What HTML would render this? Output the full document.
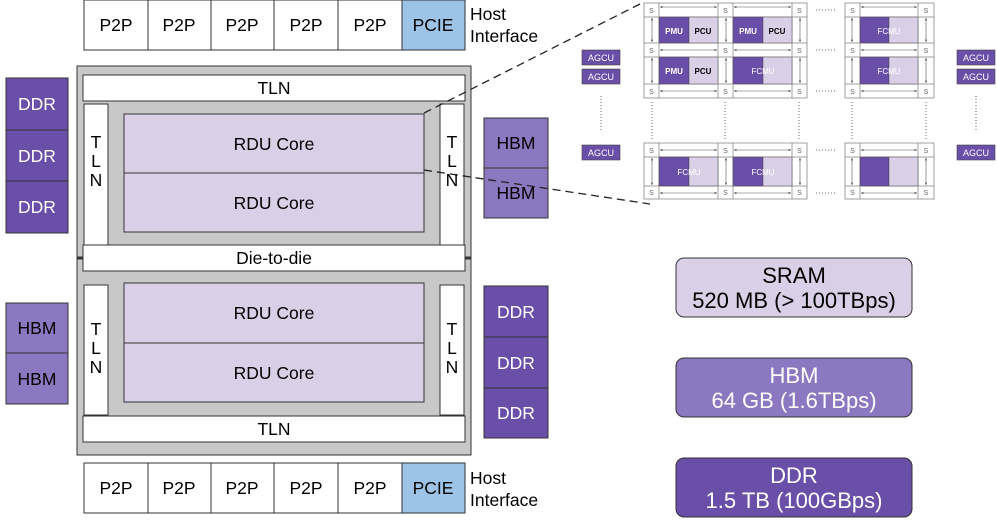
<!DOCTYPE html>
<html><head><style>body{margin:0;background:#fff}svg{display:block}text{font-family:"Liberation Sans",sans-serif}</style></head><body>
<svg width="997" height="524" viewBox="0 0 997 524">
<defs><marker id="a" markerWidth="4" markerHeight="4" refX="4" refY="2" orient="auto"><path d="M0,0L4,2L0,4z" fill="#555"/></marker>
<marker id="b" markerWidth="4" markerHeight="4" refX="0" refY="2" orient="auto"><path d="M4,0L0,2L4,4z" fill="#555"/></marker></defs>
<g stroke="#333" stroke-width="1">
<g fill="#fff">
<rect x="84" y="0" width="64" height="50"/><rect x="148" y="0" width="63" height="50"/><rect x="211" y="0" width="63" height="50"/><rect x="274" y="0" width="64" height="50"/><rect x="338" y="0" width="64" height="50"/>
<rect x="84" y="463" width="64" height="50"/><rect x="148" y="463" width="63" height="50"/><rect x="211" y="463" width="63" height="50"/><rect x="274" y="463" width="64" height="50"/><rect x="338" y="463" width="64" height="50"/>
</g>
<rect x="402" y="0" width="63" height="50" fill="#9dc3e6"/><rect x="402" y="463" width="63" height="50" fill="#9dc3e6"/>
<rect x="77" y="66" width="394" height="389" fill="#c8c8c8"/>
<line x1="77" y1="258" x2="471" y2="258" stroke-width="3"/>
<g fill="#fff">
<rect x="83" y="75" width="382" height="26"/><rect x="84" y="104" width="24" height="142"/><rect x="440" y="104" width="24" height="142"/>
<rect x="83" y="245" width="382" height="26"/>
<rect x="84" y="285" width="24" height="130"/><rect x="440" y="285" width="24" height="130"/>
<rect x="83" y="416" width="382" height="26"/>
</g>
<g fill="#d9d0e8"><rect x="124" y="114" width="300" height="59"/><rect x="124" y="173" width="300" height="59"/>
<rect x="124" y="283" width="300" height="60"/><rect x="124" y="343" width="300" height="59"/></g>
<g fill="#6a4fa8"><rect x="6" y="78" width="62" height="52"/><rect x="6" y="130" width="62" height="51"/><rect x="6" y="181" width="62" height="52"/>
<rect x="484" y="286" width="64" height="51"/><rect x="484" y="337" width="64" height="51"/><rect x="484" y="388" width="64" height="50"/></g>
<g fill="#8c78c0"><rect x="484" y="118" width="64" height="50"/><rect x="484" y="168" width="64" height="50"/>
<rect x="6" y="303" width="62" height="50"/><rect x="6" y="353" width="62" height="51"/></g>
<rect x="676" y="258" width="236" height="59" rx="8" fill="#d9d0e8"/>
<rect x="676" y="358" width="236" height="59" rx="8" fill="#8c78c0"/>
<rect x="676" y="458" width="236" height="59" rx="8" fill="#6a4fa8"/>
</g>
<g stroke="#222" stroke-dasharray="8,5" stroke-width="1.3"><line x1="424" y1="113" x2="640" y2="4"/><line x1="424" y1="170" x2="650" y2="204"/></g>
<g font-size="17.5" text-anchor="middle" fill="#000">
<text x="116" y="31">P2P</text><text x="179" y="31">P2P</text><text x="242" y="31">P2P</text><text x="306" y="31">P2P</text><text x="370" y="31">P2P</text><text x="433" y="31">PCIE</text>
<text x="116" y="494">P2P</text><text x="179" y="494">P2P</text><text x="242" y="494">P2P</text><text x="306" y="494">P2P</text><text x="370" y="494">P2P</text><text x="433" y="494">PCIE</text>
<text x="274" y="94">TLN</text><text x="274" y="264">Die-to-die</text><text x="274" y="435">TLN</text>
<text x="274" y="150">RDU Core</text><text x="274" y="209">RDU Core</text><text x="274" y="319">RDU Core</text><text x="274" y="379">RDU Core</text>
<text x="96" y="148">T</text><text x="96" y="167">L</text><text x="96" y="186">N</text>
<text x="452" y="148">T</text><text x="452" y="167">L</text><text x="452" y="186">N</text>
<text x="96" y="335">T</text><text x="96" y="354">L</text><text x="96" y="373">N</text>
<text x="452" y="335">T</text><text x="452" y="354">L</text><text x="452" y="373">N</text>
<g text-anchor="start"><text x="470" y="20">Host</text><text x="470" y="42">Interface</text><text x="470" y="484">Host</text><text x="470" y="506">Interface</text></g>
<g fill="#fff"><text x="37" y="110">DDR</text><text x="37" y="162">DDR</text><text x="37" y="213">DDR</text>
<text x="516" y="318">DDR</text><text x="516" y="369">DDR</text><text x="516" y="419">DDR</text></g>
<g fill="#000"><text x="516" y="149">HBM</text><text x="516" y="199">HBM</text><text x="37" y="334">HBM</text><text x="37" y="385">HBM</text></g>
<g font-size="22"><text x="794" y="283">SRAM</text><text x="794" y="308">520 MB (&gt; 100TBps)</text>
<text x="794" y="383" fill="#fff">HBM</text><text x="794" y="408" fill="#fff">64 GB (1.6TBps)</text>
<text x="794" y="483" fill="#fff">DDR</text><text x="794" y="508" fill="#fff">1.5 TB (100GBps)</text></g>
</g>
<g id="grid">
<g stroke="#555" stroke-width="0.6" marker-start="url(#b)" marker-end="url(#a)">
<line x1="660" y1="7" x2="717" y2="7"/><line x1="734" y1="7" x2="791" y2="7"/><line x1="861" y1="7" x2="917" y2="7"/>
<line x1="660" y1="50" x2="717" y2="50"/><line x1="734" y1="50" x2="791" y2="50"/><line x1="861" y1="50" x2="917" y2="50"/>
<line x1="660" y1="91" x2="717" y2="91"/><line x1="734" y1="91" x2="791" y2="91"/><line x1="861" y1="91" x2="917" y2="91"/>
<line x1="660" y1="150" x2="717" y2="150"/><line x1="734" y1="150" x2="791" y2="150"/><line x1="861" y1="150" x2="917" y2="150"/>
<line x1="660" y1="193" x2="717" y2="193"/><line x1="734" y1="193" x2="791" y2="193"/><line x1="861" y1="193" x2="917" y2="193"/>
<line x1="652" y1="18" x2="652" y2="42"/><line x1="726" y1="18" x2="726" y2="42"/><line x1="800" y1="18" x2="800" y2="42"/><line x1="852" y1="18" x2="852" y2="42"/><line x1="926" y1="18" x2="926" y2="42"/>
<line x1="652" y1="58" x2="652" y2="83"/><line x1="726" y1="58" x2="726" y2="83"/><line x1="800" y1="58" x2="800" y2="83"/><line x1="852" y1="58" x2="852" y2="83"/><line x1="926" y1="58" x2="926" y2="83"/>
<line x1="652" y1="158" x2="652" y2="185"/><line x1="726" y1="158" x2="726" y2="185"/><line x1="800" y1="158" x2="800" y2="185"/><line x1="852" y1="158" x2="852" y2="185"/><line x1="926" y1="158" x2="926" y2="185"/>
</g>
<g stroke="#888" stroke-width="0.8" fill="none">
<path d="M644 17V43M659 17V43M718 17V43M733 17V43M792 17V43M807 17V43M845 17V43M860 17V43M918 17V43M934 17V43"/>
<path d="M644 57V84M659 57V84M718 57V84M733 57V84M792 57V84M807 57V84M845 57V84M860 57V84M918 57V84M934 57V84"/>
<path d="M644 157V186M659 157V186M718 157V186M733 157V186M792 157V186M807 157V186M845 157V186M860 157V186M918 157V186M934 157V186"/>
<path d="M659 3H718M659 17H718M733 3H792M733 17H792M860 3H918M860 17H918M659 43H718M659 57H718M733 43H792M733 57H792M860 43H918M860 57H918M659 84H718M659 98H718M733 84H792M733 98H792M860 84H918M860 98H918M659 143H718M659 157H718M733 143H792M733 157H792M860 143H918M860 157H918M659 186H718M659 199H718M733 186H792M733 199H792M860 186H918M860 199H918"/>
</g>
<g fill="#6a4fa8" stroke="#444" stroke-width="0.5">
<rect x="659" y="17" width="30" height="26"/><rect x="733" y="17" width="30" height="26"/><rect x="860" y="17" width="29" height="26"/>
<rect x="659" y="57" width="30" height="27"/><rect x="733" y="57" width="30" height="27"/><rect x="860" y="57" width="29" height="27"/>
<rect x="659" y="157" width="30" height="29"/><rect x="733" y="157" width="30" height="29"/><rect x="860" y="157" width="29" height="29"/>
</g>
<g fill="#d9d0e8" stroke="#444" stroke-width="0.5">
<rect x="689" y="17" width="29" height="26"/><rect x="763" y="17" width="29" height="26"/><rect x="889" y="17" width="29" height="26"/>
<rect x="689" y="57" width="29" height="27"/><rect x="763" y="57" width="29" height="27"/><rect x="889" y="57" width="29" height="27"/>
<rect x="689" y="157" width="29" height="29"/><rect x="763" y="157" width="29" height="29"/><rect x="889" y="157" width="29" height="29"/>
</g>
<g fill="#fff" stroke="#888" stroke-width="0.8">
<rect x="644" y="3" width="15" height="14"/><rect x="718" y="3" width="15" height="14"/><rect x="792" y="3" width="15" height="14"/><rect x="845" y="3" width="15" height="14"/><rect x="918" y="3" width="16" height="14"/>
<rect x="644" y="43" width="15" height="14"/><rect x="718" y="43" width="15" height="14"/><rect x="792" y="43" width="15" height="14"/><rect x="845" y="43" width="15" height="14"/><rect x="918" y="43" width="16" height="14"/>
<rect x="644" y="84" width="15" height="14"/><rect x="718" y="84" width="15" height="14"/><rect x="792" y="84" width="15" height="14"/><rect x="845" y="84" width="15" height="14"/><rect x="918" y="84" width="16" height="14"/>
<rect x="644" y="143" width="15" height="14"/><rect x="718" y="143" width="15" height="14"/><rect x="792" y="143" width="15" height="14"/><rect x="845" y="143" width="15" height="14"/><rect x="918" y="143" width="16" height="14"/>
<rect x="644" y="186" width="15" height="13"/><rect x="718" y="186" width="15" height="13"/><rect x="792" y="186" width="15" height="13"/><rect x="845" y="186" width="15" height="13"/><rect x="918" y="186" width="16" height="13"/>
</g>
<g fill="#6a4fa8" stroke="#444" stroke-width="0.6">
<rect x="582" y="50" width="38" height="15"/><rect x="582" y="69" width="38" height="15"/><rect x="582" y="145" width="38" height="15"/>
<rect x="957" y="50" width="38" height="15"/><rect x="957" y="69" width="38" height="15"/><rect x="957" y="145" width="38" height="15"/>
</g>
<g font-size="7" fill="#666" text-anchor="middle">
<text x="651.5" y="13">S</text><text x="725.5" y="13">S</text><text x="799.5" y="13">S</text><text x="852.5" y="13">S</text><text x="926" y="13">S</text>
<text x="651.5" y="53">S</text><text x="725.5" y="53">S</text><text x="799.5" y="53">S</text><text x="852.5" y="53">S</text><text x="926" y="53">S</text>
<text x="651.5" y="94">S</text><text x="725.5" y="94">S</text><text x="799.5" y="94">S</text><text x="852.5" y="94">S</text><text x="926" y="94">S</text>
<text x="651.5" y="153">S</text><text x="725.5" y="153">S</text><text x="799.5" y="153">S</text><text x="852.5" y="153">S</text><text x="926" y="153">S</text>
<text x="651.5" y="195">S</text><text x="725.5" y="195">S</text><text x="799.5" y="195">S</text><text x="852.5" y="195">S</text><text x="926" y="195">S</text>
</g>
<g font-size="8" font-weight="bold" text-anchor="middle">
<text x="674" y="34" fill="#fff">PMU</text><text x="703" y="34">PCU</text><text x="748" y="34" fill="#fff">PMU</text><text x="777" y="34">PCU</text>
<text x="674" y="74" fill="#fff">PMU</text><text x="703" y="74">PCU</text>
</g>
<g font-size="8" fill="#fff" text-anchor="middle">
<text x="889" y="34">FCMU</text><text x="763" y="74">FCMU</text><text x="889" y="74">FCMU</text><text x="689" y="175">FCMU</text><text x="763" y="175">FCMU</text>
</g>
<g font-size="9" fill="#fff" text-anchor="middle">
<text x="601" y="61">AGCU</text><text x="601" y="80">AGCU</text><text x="601" y="156">AGCU</text>
<text x="976" y="61">AGCU</text><text x="976" y="80">AGCU</text><text x="976" y="156">AGCU</text>
</g>
<g stroke="#666" stroke-width="1" stroke-dasharray="1,2">
<line x1="816" y1="10" x2="836" y2="10"/><line x1="816" y1="50" x2="836" y2="50"/><line x1="816" y1="91" x2="836" y2="91"/><line x1="816" y1="150" x2="836" y2="150"/><line x1="816" y1="193" x2="836" y2="193"/>
<line x1="601" y1="96" x2="601" y2="132"/><line x1="976" y1="96" x2="976" y2="132"/>
<line x1="652" y1="102" x2="652" y2="140"/><line x1="725" y1="102" x2="725" y2="140"/><line x1="799" y1="102" x2="799" y2="140"/><line x1="852" y1="102" x2="852" y2="140"/><line x1="926" y1="102" x2="926" y2="140"/>
</g>
</g>
</svg>
</body></html>
